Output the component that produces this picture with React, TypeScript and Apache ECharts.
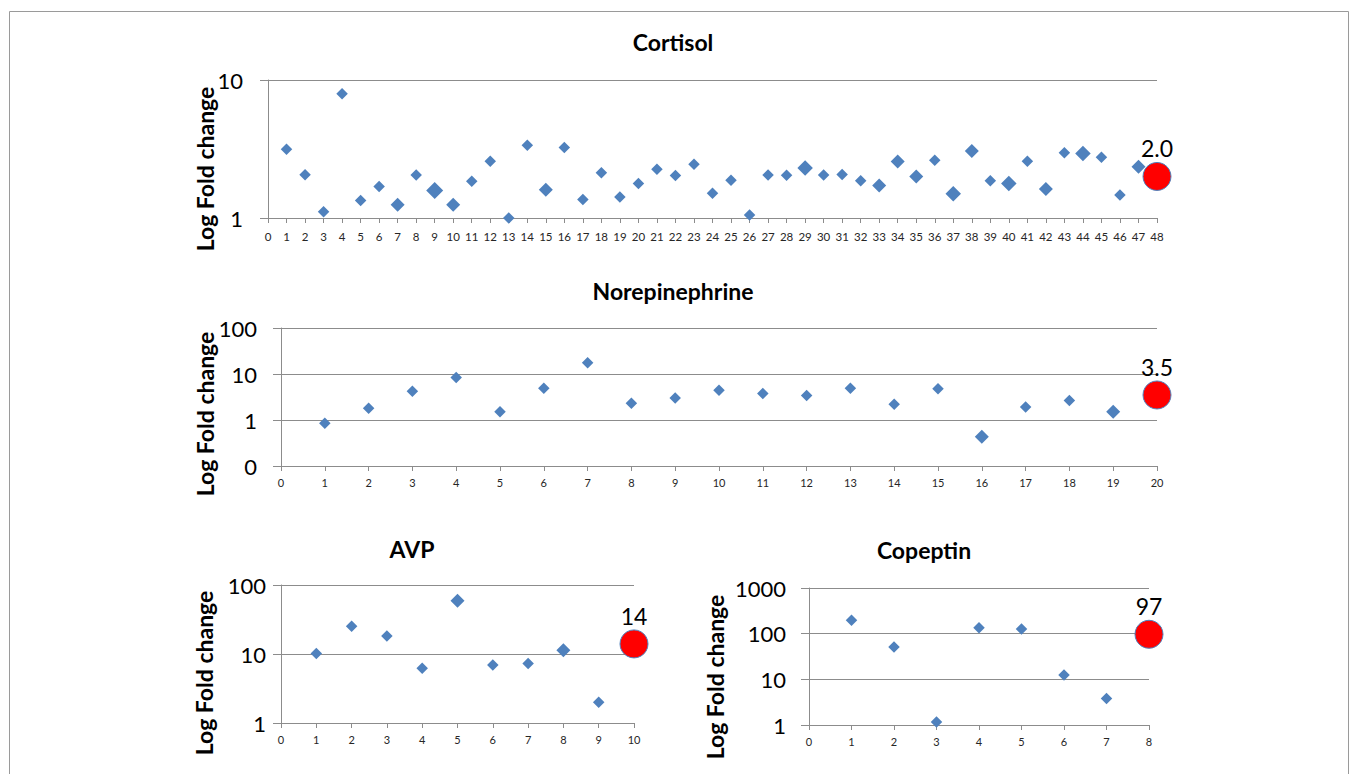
import React, { useEffect, useRef } from "react";
import * as echarts from "echarts";

// ---------- data ----------
const cortisolValues = [
  3.15, 2.06, 1.11, 7.95, 1.34, 1.69, 1.25, 2.05, 1.58, 1.25, 1.85, 2.58, 1.0, 3.37, 1.6, 3.24,
  1.36, 2.13, 1.42, 1.78, 2.26, 2.03, 2.45, 1.51, 1.88, 1.05, 2.05, 2.04, 2.3, 2.05, 2.07, 1.86,
  1.72, 2.57, 2.0, 2.62, 1.5, 3.06, 1.86, 1.78, 2.58, 1.62, 2.97, 2.93, 2.76, 1.47, 2.35,
];
// marker weight (1 = smallest marker)
const cortisolWeights = [
  1, 1, 1, 1, 1, 1, 2, 1, 4, 2, 1, 1, 1, 1, 2, 1,
  1, 1, 1, 1, 1, 1, 1, 1, 1, 1, 1, 1, 3, 1, 1, 1,
  2, 2, 2, 1, 3, 2, 1, 3, 1, 2, 1, 3, 1, 1, 2,
];
const cortisolPooled = 2.0;

const norValues = [
  0.85, 1.8, 4.2, 8.4, 1.52, 4.9, 17.5, 2.31, 3.02, 4.44, 3.76, 3.4, 4.9, 2.2, 4.75, 0.43, 1.92,
  2.64, 1.52,
];
const norWeights = [1, 1, 1, 1, 1, 1, 1, 1, 1, 1, 1, 1, 1, 1, 1, 2, 1, 1, 2];
const norPooled = 3.5;

const avpValues = [10.2, 25.2, 18.2, 6.2, 59, 6.9, 7.3, 11.3, 2.0];
const avpWeights = [1, 1, 1, 1, 2, 1, 1, 2, 1];
const avpPooled = 14;

const copeptinValues = [197, 51, 1.16, 134, 127, 12.4, 3.8];
const copeptinWeights = [1, 1, 1, 1, 1, 1, 1];
const copeptinPooled = 97;

const panelTitles = ["Cortisol", "Norepinephrine", "AVP", "Copeptin"];
const yAxisTitle = "Log Fold change";

// ---------- layout / style ----------
const FONT = "Lato, 'Open Sans', sans-serif";
const BLUE = "#4F81BD";
const GRID = "#8c8c8c";
const sizeFor = (w: number) => [0, 11.5, 14, 15.5, 17][w] || 11.5;

const panels = [
  {
    title: panelTitles[0], values: cortisolValues, weights: cortisolWeights, pooled: cortisolPooled, dec: 1,
    yMin: 1, yMax: 10, grid: { left: 268, top: 80, width: 889, height: 138 },
    yLabelMargin: 25, xFont: 11.5, xMargin: 12, titleX: 673, titleY: 42, yTitleX: 205, yTitleY: 169,
  },
  {
    title: panelTitles[1], values: norValues, weights: norWeights, pooled: norPooled, dec: 1,
    yMin: 0.1, yMax: 100, grid: { left: 281, top: 328, width: 876, height: 138 },
    yLabelMargin: 24, xFont: 11, xMargin: 11, titleX: 673, titleY: 291, yTitleX: 205, yTitleY: 414,
  },
  {
    title: panelTitles[2], values: avpValues, weights: avpWeights, pooled: avpPooled, dec: 0,
    yMin: 1, yMax: 100, grid: { left: 281, top: 585, width: 353, height: 138 },
    yLabelMargin: 15, xFont: 11, xMargin: 11, titleX: 412, titleY: 549, yTitleX: 204, yTitleY: 673,
  },
  {
    title: panelTitles[3], values: copeptinValues, weights: copeptinWeights, pooled: copeptinPooled, dec: 0,
    yMin: 1, yMax: 1000, grid: { left: 809, top: 588, width: 340, height: 137 },
    yLabelMargin: 23, xFont: 11, xMargin: 11, titleX: 924, titleY: 550, yTitleX: 715, yTitleY: 677,
  },
];

function buildOption() {
  const grids: any[] = [];
  const xAxes: any[] = [];
  const yAxes: any[] = [];
  const series: any[] = [];
  const graphics: any[] = [
    {
      type: "rect",
      shape: { x: 9.5, y: 11.5, width: 1339, height: 800 },
      style: { fill: "none", stroke: "#9a9a9a", lineWidth: 1 },
      silent: true,
    },
  ];

  panels.forEach((p, i) => {
    const xMax = p.values.length + 1;
    grids.push({ ...p.grid, containLabel: false });
    xAxes.push({
      type: "value",
      gridIndex: i,
      min: 0,
      max: xMax,
      interval: 1,
      axisLine: { show: true, onZero: false, lineStyle: { color: GRID, width: 1 } },
      axisTick: { show: true, length: 5, lineStyle: { color: GRID } },
      splitLine: { show: false },
      axisLabel: { fontSize: p.xFont, color: "#262626", fontFamily: FONT, margin: p.xMargin },
    });
    yAxes.push({
      type: "log",
      logBase: 10,
      gridIndex: i,
      min: p.yMin,
      max: p.yMax,
      axisLine: { show: true, lineStyle: { color: GRID, width: 1 } },
      axisTick: { show: true, length: 8, lineStyle: { color: GRID } },
      splitLine: { show: true, lineStyle: { color: GRID, width: 1 } },
      axisLabel: {
        fontSize: 22,
        color: "#000",
        fontFamily: FONT,
        margin: p.yLabelMargin,
        formatter: (v: number) => (v < 0.5 ? "0" : String(Math.round(v))),
      },
    });
    series.push({
      type: "scatter",
      xAxisIndex: i,
      yAxisIndex: i,
      symbol: "diamond",
      clip: false,
      z: 2,
      itemStyle: { color: BLUE, opacity: 1 },
      data: p.values.map((v, k) => ({ value: [k + 1, v], symbolSize: sizeFor(p.weights[k]) })),
    });
    series.push({
      type: "scatter",
      xAxisIndex: i,
      yAxisIndex: i,
      symbol: "circle",
      symbolSize: 28,
      clip: false,
      z: 3,
      itemStyle: { color: "#FF0000", borderColor: BLUE, borderWidth: 1, opacity: 1 },
      label: {
        show: true,
        position: "top",
        distance: 2,
        fontSize: 23,
        color: "#000",
        fontFamily: FONT,
        formatter: () => p.pooled.toFixed(p.dec),
      },
      data: [[xMax, p.pooled]],
    });
    graphics.push({
      type: "text",
      x: p.titleX,
      y: p.titleY,
      silent: true,
      style: {
        text: p.title,
        font: `bold 23px ${FONT}`,
        fill: "#000",
        textAlign: "center",
        textVerticalAlign: "middle",
      },
    });
    graphics.push({
      type: "text",
      x: p.yTitleX,
      y: p.yTitleY,
      rotation: Math.PI / 2,
      silent: true,
      style: {
        text: yAxisTitle,
        font: `bold 23px ${FONT}`,
        fill: "#000",
        textAlign: "center",
        textVerticalAlign: "middle",
      },
    });
  });

  return {
    animation: false,
    backgroundColor: "#ffffff",
    grid: grids,
    xAxis: xAxes,
    yAxis: yAxes,
    series,
    graphic: graphics,
  };
}

export default function App() {
  const ref = useRef<HTMLDivElement>(null);
  useEffect(() => {
    if (!ref.current) return;
    const chart = echarts.init(ref.current, undefined, { renderer: "svg" });
    chart.setOption(buildOption() as any);
    return () => chart.dispose();
  }, []);
  return (
    <div
      ref={ref}
      style={{ position: "absolute", left: 0, top: 0, width: 1357, height: 774, background: "#fff" }}
    />
  );
}
